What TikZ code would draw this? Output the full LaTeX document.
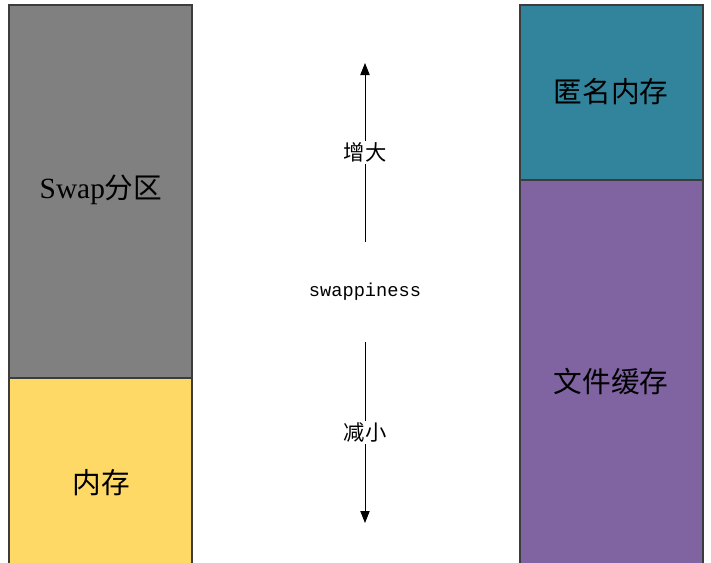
\documentclass[tikz,border=0pt]{standalone}
\usepackage{fontspec}
\setmainfont{Liberation Serif}
\setmonofont{Liberation Mono}
\newfontfamily\cjk{Noto Sans CJK SC}
\usetikzlibrary{arrows.meta}
\definecolor{swapgray}{RGB}{128,128,128}
\definecolor{memyellow}{RGB}{255,217,102}
\definecolor{anonteal}{RGB}{49,132,155}
\definecolor{filepurple}{RGB}{128,100,162}
\definecolor{edgegray}{RGB}{60,60,60}
\tikzset{
  block/.style={draw=edgegray, line width=0.8pt},
  bigtext/.style={font=\cjk\fontsize{21.5}{24}\selectfont, text=black},
  smalltext/.style={font=\cjk\fontsize{16}{18}\selectfont, fill=white, inner sep=1pt},
  arr/.style={-{Triangle[width=7pt,length=9pt]}, line width=0.6pt}
}
\begin{document}
\begin{tikzpicture}[x=0.75pt,y=-0.75pt]
\useasboundingbox (0,0) rectangle (711,562);
\begin{scope}
\clip (0,0) rectangle (711,562);
\fill[white] (0,0) rectangle (711,562);
\draw[block, fill=swapgray] (9,5) rectangle (192,378);
\draw[block, fill=memyellow] (9,378) rectangle (192,570);
\draw[block, fill=anonteal] (520,5) rectangle (703,180);
\draw[block, fill=filepurple] (520,180) rectangle (703,570);
\end{scope}
\node[bigtext] (swap) at (101,190) {{\rmfamily\fontsize{22}{24}\selectfont Swap}分区};
\node[bigtext] (mem) at (101,483) {内存};
\node[bigtext] (anon) at (611,92) {匿名内存};
\node[bigtext] (file) at (611,382) {文件缓存};
\node[font=\ttfamily\fontsize{14}{16}\selectfont, minimum height=75pt, inner sep=0pt] (sw) at (365,292) {swappiness};
\coordinate (top) at (365,63);
\coordinate (bot) at (365,523);
\draw[arr] (sw.north) -- node[smalltext] (inc) {增大} (top);
\draw[arr] (sw.south) -- node[smalltext] (dec) {减小} (bot);
\end{tikzpicture}
\end{document}
